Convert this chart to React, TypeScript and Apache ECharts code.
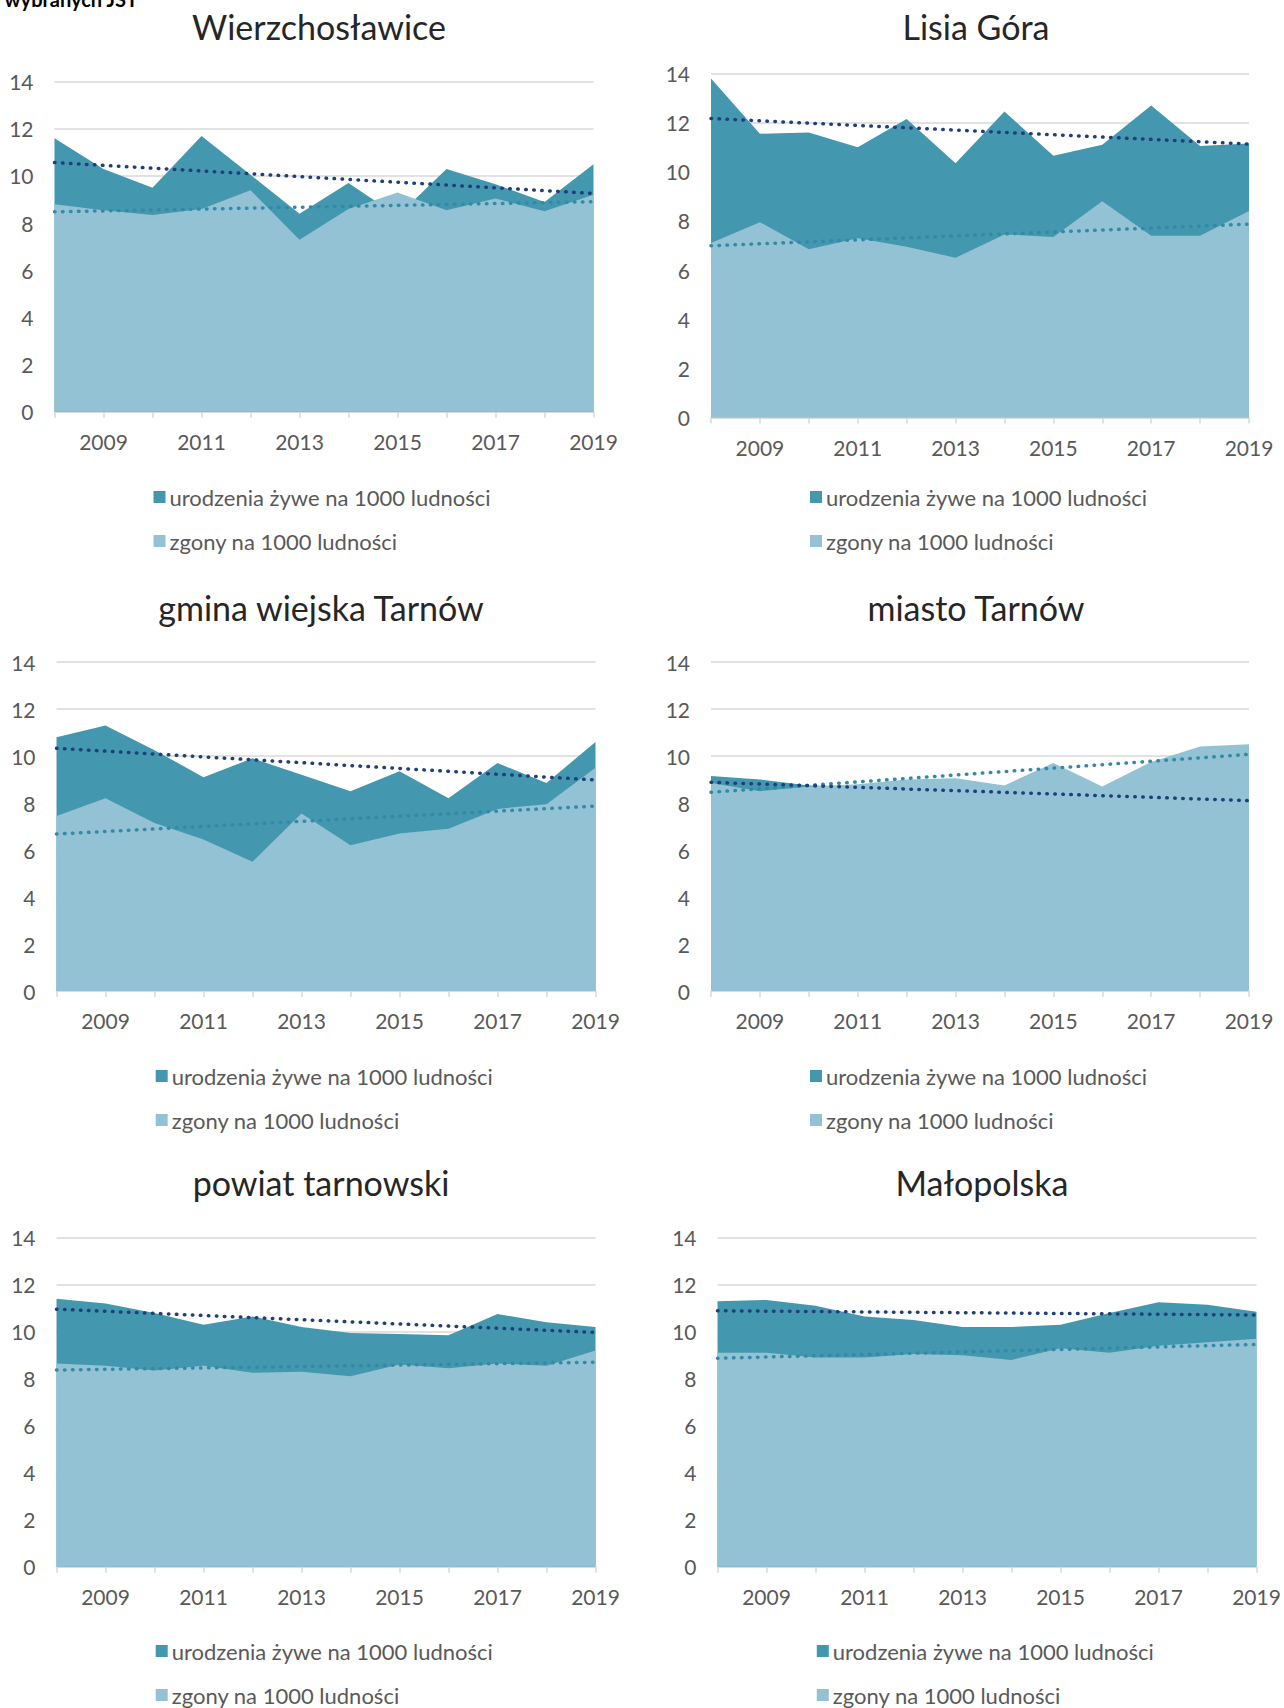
import React, { useEffect, useRef } from "react";
import * as echarts from "echarts";

const YEARS = ["2008", "2009", "2010", "2011", "2012", "2013", "2014", "2015", "2016", "2017", "2018", "2019"];

const BIRTHS_NAME = "urodzenia żywe na 1000 ludności";
const DEATHS_NAME = "zgony na 1000 ludności";

const TITLES = ["Wierzchosławice", "Lisia Góra", "gmina wiejska Tarnów", "miasto Tarnów", "powiat tarnowski", "Małopolska"];

// Wierzchosławice
const wierzBirths = [11.6, 10.3, 9.5, 11.7, 10.05, 8.4, 9.7, 8.3, 10.3, 9.65, 8.9, 10.5];
const wierzDeaths = [8.8, 8.55, 8.35, 8.6, 9.4, 7.3, 8.6, 9.3, 8.55, 9.05, 8.5, 9.2];
const wierzBirthsTrend = [10.57, 9.26];
const wierzDeathsTrend = [8.48, 8.91];

// Lisia Góra
const lisiaBirths = [13.8, 11.55, 11.6, 11.0, 12.15, 10.35, 12.45, 10.65, 11.1, 12.7, 11.05, 11.15];
const lisiaDeaths = [7.1, 7.95, 6.85, 7.3, 6.95, 6.5, 7.45, 7.35, 8.8, 7.4, 7.4, 8.4];
const lisiaBirthsTrend = [12.17, 11.13];
const lisiaDeathsTrend = [6.99, 7.87];

// gmina wiejska Tarnów
const gminaBirths = [10.8, 11.3, 10.25, 9.1, 9.9, 9.2, 8.5, 9.35, 8.2, 9.7, 8.85, 10.6];
const gminaDeaths = [7.45, 8.2, 7.15, 6.45, 5.5, 7.55, 6.2, 6.7, 6.9, 7.75, 7.95, 9.5];
const gminaBirthsTrend = [10.33, 8.98];
const gminaDeathsTrend = [6.68, 7.87];

// miasto Tarnów
const miastoBirths = [9.15, 9.0, 8.75, 8.7, 8.5, 8.3, 8.4, 8.2, 8.4, 8.5, 8.2, 7.9];
const miastoDeaths = [8.85, 8.5, 8.7, 8.8, 9.0, 9.05, 8.75, 9.7, 8.7, 9.75, 10.4, 10.5];
const miastoBirthsTrend = [8.88, 8.1];
const miastoDeathsTrend = [8.46, 10.07];

// powiat tarnowski
const powiatBirths = [11.4, 11.2, 10.8, 10.3, 10.65, 10.2, 9.95, 9.9, 9.85, 10.75, 10.4, 10.2];
const powiatDeaths = [8.65, 8.55, 8.35, 8.55, 8.25, 8.3, 8.1, 8.6, 8.45, 8.65, 8.55, 9.2];
const powiatBirthsTrend = [10.96, 9.97];
const powiatDeathsTrend = [8.37, 8.7];

// Małopolska
const malopolskaBirths = [11.3, 11.35, 11.1, 10.65, 10.5, 10.2, 10.2, 10.3, 10.8, 11.25, 11.15, 10.85];
const malopolskaDeaths = [9.1, 9.1, 8.9, 8.9, 9.05, 9.0, 8.8, 9.3, 9.1, 9.4, 9.55, 9.7];
const malopolskaBirthsTrend = [10.89, 10.71];
const malopolskaDeathsTrend = [8.87, 9.46];

const PANELS = [
  { births: wierzBirths, deaths: wierzDeaths, bt: wierzBirthsTrend, dt: wierzDeathsTrend },
  { births: lisiaBirths, deaths: lisiaDeaths, bt: lisiaBirthsTrend, dt: lisiaDeathsTrend },
  { births: gminaBirths, deaths: gminaDeaths, bt: gminaBirthsTrend, dt: gminaDeathsTrend },
  { births: miastoBirths, deaths: miastoDeaths, bt: miastoBirthsTrend, dt: miastoDeathsTrend },
  { births: powiatBirths, deaths: powiatDeaths, bt: powiatBirthsTrend, dt: powiatDeathsTrend },
  { births: malopolskaBirths, deaths: malopolskaDeaths, bt: malopolskaBirthsTrend, dt: malopolskaDeathsTrend },
];

// layout (px)
const GRIDS = [
  { left: 54.5, top: 81.7, width: 539, height: 330 },
  { left: 711, top: 73.5, width: 538, height: 344 },
  { left: 56.5, top: 662, width: 539, height: 329 },
  { left: 711, top: 662, width: 538, height: 329 },
  { left: 56.5, top: 1237.7, width: 539, height: 329 },
  { left: 717.5, top: 1237.7, width: 539, height: 329 },
];
const TITLE_POS = [
  [319, 26], [976, 26], [321, 607], [976, 607], [321, 1182], [982, 1182],
];
const LEGEND_POS = [
  [153.5, 486], [810, 486], [155.7, 1065], [810, 1065], [155.7, 1640], [816.8, 1640],
];

const FONT = "Lato, 'Noto Sans', sans-serif";
const C_BIRTH = "#4398B0";
const C_DEATH = "#93C2D4";
const C_BIRTH_TREND = "#1F3E7A";
const C_DEATH_TREND = "#3489A6";
const C_GRID = "#D9D9D9";
const C_LABEL = "#595959";

export default function App() {
  const ref = useRef<HTMLDivElement>(null);

  useEffect(() => {
    if (!ref.current) return;
    const chart = echarts.init(ref.current, undefined, { renderer: "svg" });

    const grid = GRIDS.map((g) => ({ ...g, containLabel: false }));
    const xAxis = GRIDS.map((_, i) => ({
      type: "category",
      gridIndex: i,
      data: YEARS,
      boundaryGap: false,
      axisLine: { show: true, lineStyle: { color: C_GRID, width: 1.5 } },
      axisTick: { show: true, interval: 0, length: 6, lineStyle: { color: C_GRID, width: 1.5 } },
      axisLabel: {
        interval: (idx: number) => idx % 2 === 1,
        color: C_LABEL,
        fontFamily: FONT,
        fontSize: 21,
        margin: 19,
      },
      splitLine: { show: false },
    }));
    const yAxis = GRIDS.map((_, i) => ({
      type: "value",
      gridIndex: i,
      min: 0,
      max: 14,
      interval: 2,
      axisLine: { show: false },
      axisTick: { show: false },
      axisLabel: { color: C_LABEL, fontFamily: FONT, fontSize: 21, margin: 21 },
      splitLine: { show: true, lineStyle: { color: C_GRID, width: 1.5 } },
    }));

    const series: any[] = [];
    PANELS.forEach((p, i) => {
      series.push({
        type: "line",
        name: BIRTHS_NAME,
        xAxisIndex: i,
        yAxisIndex: i,
        data: p.births,
        symbol: "none",
        showSymbol: false,
        itemStyle: { color: C_BIRTH },
        lineStyle: { width: 0, opacity: 0 },
        areaStyle: { color: C_BIRTH, opacity: 1 },
        z: 2,
        silent: true,
      });
      series.push({
        type: "line",
        name: DEATHS_NAME,
        xAxisIndex: i,
        yAxisIndex: i,
        data: p.deaths,
        symbol: "none",
        showSymbol: false,
        itemStyle: { color: C_DEATH },
        lineStyle: { width: 0, opacity: 0 },
        areaStyle: { color: C_DEATH, opacity: 1 },
        z: 3,
        silent: true,
      });
      series.push({
        type: "line",
        name: "trend urodzeń",
        xAxisIndex: i,
        yAxisIndex: i,
        data: [[YEARS[0], p.bt[0]], [YEARS[YEARS.length - 1], p.bt[1]]],
        symbol: "none",
        lineStyle: { color: C_BIRTH_TREND, width: 3.5, type: [0.5, 7.5], cap: "round" },
        z: 5,
        silent: true,
      });
      series.push({
        type: "line",
        name: "trend zgonów",
        xAxisIndex: i,
        yAxisIndex: i,
        data: [[YEARS[0], p.dt[0]], [YEARS[YEARS.length - 1], p.dt[1]]],
        symbol: "none",
        lineStyle: { color: C_DEATH_TREND, width: 3.5, type: [0.5, 7.5], cap: "round" },
        z: 4,
        silent: true,
      });
    });

    const legend = LEGEND_POS.map(([x, y]) => ({
      data: [BIRTHS_NAME, DEATHS_NAME],
      orient: "vertical",
      left: x,
      top: y,
      padding: 0,
      icon: "rect",
      itemWidth: 12,
      itemHeight: 12,
      itemGap: 22,
      selectedMode: false,
      textStyle: { color: C_LABEL, fontFamily: FONT, fontSize: 22, lineHeight: 22, padding: [0, 0, 0, -1] },
    }));

    const graphic: any[] = TITLES.map((t, i) => ({
      type: "text",
      x: TITLE_POS[i][0],
      y: TITLE_POS[i][1],
      silent: true,
      style: {
        text: t,
        align: "center",
        verticalAlign: "middle",
        fontFamily: FONT,
        fontSize: 34,
        fill: "#262626",
      },
    }));
    graphic.push({
      type: "text",
      x: 138,
      y: 9,
      silent: true,
      style: {
        text: "wybranych JST",
        align: "right",
        verticalAlign: "bottom",
        fontFamily: FONT,
        fontWeight: "bold",
        fontSize: 20,
        fill: "#000",
      },
    });

    chart.setOption({
      animation: false,
      backgroundColor: "#ffffff",
      grid,
      xAxis,
      yAxis,
      legend,
      series,
      graphic,
    });

    return () => chart.dispose();
  }, []);

  return (
    <div
      ref={ref}
      style={{ position: "absolute", left: 0, top: 0, width: 1284, height: 1708, background: "#fff" }}
    />
  );
}
